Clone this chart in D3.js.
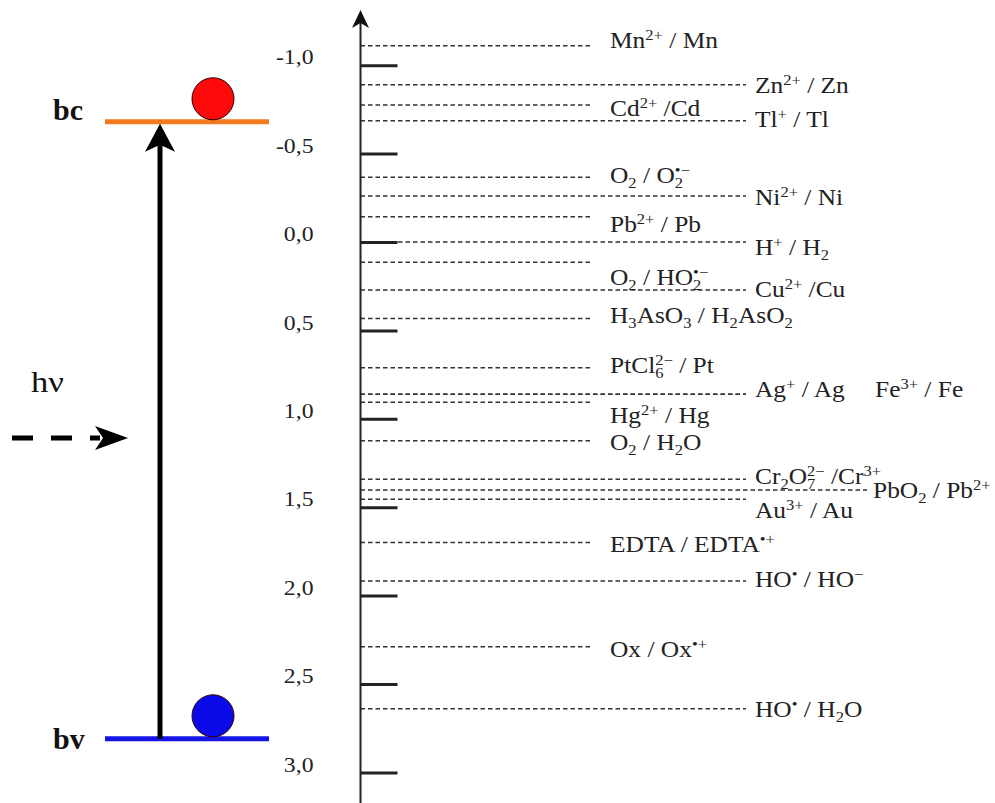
<!DOCTYPE html>
<html>
<head>
<meta charset="utf-8">
<script src="https://cdn.jsdelivr.net/npm/d3@7"></script>
<style>
  body { margin: 0; background: #fff; }
  svg { display: block; font-family: "Liberation Serif", "Times New Roman", serif; }
  text { white-space: pre; }
</style>
</head>
<body>
<div id="chart"></div>
<script>
// potential scale (V)
var tickValues = [-1.0, -0.5, 0.0, 0.5, 1.0, 1.5, 2.0, 2.5, 3.0];

// band edges of the semiconductor (V)
var bandNames = ["bc", "bv"];
var bandPotentials = [-0.68, 2.81];

// redox couples: label markup (^{} superscript, _{} subscript)
var coupleLabels = [
    "Mn^{2+} / Mn", "Zn^{2+} / Zn", "Cd^{2+} /Cd", "Tl^{+} / Tl",
    "O_{2} / O_{2}^{•−}", "Ni^{2+} / Ni", "Pb^{2+} / Pb", "H^{+} / H_{2}",
    "O_{2} / HO_{2}^{•−}", "Cu^{2+} /Cu", "H_{3}AsO_{3} / H_{2}AsO_{2}",
    "PtCl_{6}^{2−} / Pt", "Ag^{+} / Ag", "Fe^{3+} / Fe", "Hg^{2+} / Hg",
    "O_{2} / H_{2}O", "Cr_{2}O_{7}^{2−} /Cr^{3+}", "PbO_{2} / Pb^{2+}",
    "Au^{3+} / Au", "EDTA / EDTA^{•+}", "HO^{•} / HO^{−}", "Ox / Ox^{•+}",
    "HO^{•} / H_{2}O"
];
// potential of each couple's dashed level (V)
var couplePotentials = [
    -1.11, -0.89, -0.775, -0.686,
    -0.366, -0.26, -0.143, 0.0,
    0.115, 0.271, 0.432,
    0.711, 0.861, 0.861, 0.907,
    1.124, 1.342, 1.403,
    1.455, 1.699, 1.917, 2.289,
    2.64
];
// potential where each label is written (V)
var coupleLabelPotentials = [
    -1.135, -0.884, -0.752, -0.688,
    -0.372, -0.249, -0.098, 0.034,
    0.204, 0.270, 0.419,
    0.701, 0.835, 0.835, 0.982,
    1.137, 1.329, 1.408,
    1.521, 1.712, 1.910, 2.306,
    2.645
];
// column the label sits in
var couplePlacement = [
    "near", "far", "near", "far",
    "near", "far", "near", "far",
    "near", "far", "near",
    "near", "far", "beside", "near",
    "near", "far", "outer",
    "far", "near", "far", "near",
    "far"
];

var width = 995, height = 803;
var axisX = 360.5;
var stretch = 1.13;   // the original type is set a little wide

var y = d3.scaleLinear().domain([-1, 3]).range([65.2, 772.4]);
var lineEnd = d3.scaleOrdinal()
    .domain(["near", "far", "beside", "outer"])
    .range([591, 746, 746, 867]);
var labelX = d3.scaleOrdinal()
    .domain(["near", "far", "beside", "outer"])
    .range([610, 755, 875, 873]);

var locale = d3.formatLocale({decimal: ",", thousands: ".", grouping: [3], currency: ["", ""], minus: "-"});
var fmt = locale.format(".1f");

var svg = d3.select("#chart").append("svg")
    .attr("width", width)
    .attr("height", height);

svg.append("rect").attr("width", width).attr("height", height).attr("fill", "#fff");

// write markup with sub/superscripts as tspans
function richText(sel, markup, size) {
    var tokens = markup.match(/\^\{[^}]*\}|_\{[^}]*\}|[^_^]+/g);
    var shift = 0, prev = null, prevNode = null;
    tokens.forEach(function(t) {
        var kind = t[0] === "^" ? "sup" : (t[0] === "_" ? "sub" : "base");
        var str = kind === "base" ? t : t.slice(2, -1);
        var target = kind === "sup" ? -0.36 * size : (kind === "sub" ? 0.22 * size : 0);
        var ts = sel.append("tspan")
            .text(str)
            .attr("dy", target - shift)
            .style("font-size", (kind === "base" ? size : size * 0.65) + "px");
        if (kind === "sup" && prev === "sub") {
            ts.attr("dx", -prevNode.getComputedTextLength());
        }
        shift = target; prev = kind; prevNode = ts.node();
    });
}

var couples = coupleLabels.map(function(d, i) {
    return {label: d, v: couplePotentials[i], lv: coupleLabelPotentials[i], place: couplePlacement[i]};
});

// dashed levels
svg.append("g").selectAll("line")
    .data(couples)
  .enter().append("line")
    .attr("x1", axisX)
    .attr("x2", function(d) { return lineEnd(d.place); })
    .attr("y1", function(d) { return y(d.v); })
    .attr("y2", function(d) { return y(d.v); })
    .attr("stroke", "#333")
    .attr("stroke-width", 1.5)
    .attr("stroke-dasharray", "4.5,3");

// couple labels
svg.append("g").selectAll("text")
    .data(couples)
  .enter().append("text")
    .attr("transform", function(d) {
        return "translate(" + labelX(d.place) + "," + (y(d.lv) + 7) + ") scale(" + stretch + ",1)";
    })
    .attr("fill", "#222")
    .each(function(d) { richText(d3.select(this), d.label, 22.5); });

// axis: ticks to the right, labels to the left
var axis = svg.append("g")
    .attr("transform", "translate(" + axisX + ",0)")
    .call(d3.axisLeft(y)
        .tickValues(tickValues)
        .tickFormat(fmt)
        .tickSizeInner(-37)
        .tickSizeOuter(0)
        .tickPadding(47));
axis.select(".domain").remove();
axis.selectAll(".tick line").attr("stroke", "#222").attr("stroke-width", 3);
axis.selectAll(".tick text")
    .attr("x", -47 / stretch)
    .attr("transform", "scale(" + stretch + ",1)")
    .attr("dy", "-0.06em")
    .attr("fill", "#222")
    .style("font-family", "Liberation Serif, serif")
    .style("font-size", "21px");

svg.append("line")
    .attr("x1", axisX).attr("x2", axisX)
    .attr("y1", 16).attr("y2", height)
    .attr("stroke", "#222")
    .attr("stroke-width", 2);
svg.append("path")
    .attr("d", "M" + axisX + ",10 L" + (axisX + 8.5) + ",28 L" + axisX + ",23 L" + (axisX - 8.5) + ",28 Z")
    .attr("fill", "#111");

// bands
var bandColor = ["#f27a1f", "#1414e6"];
var chargeColor = ["#ff0a0a", "#0a0ae8"];
var bands = bandNames.map(function(d, i) { return {name: d, v: bandPotentials[i]}; });

svg.append("g").selectAll("line")
    .data(bands)
  .enter().append("line")
    .attr("x1", 105).attr("x2", 269)
    .attr("y1", function(d) { return y(d.v); })
    .attr("y2", function(d) { return y(d.v); })
    .attr("stroke", function(d, i) { return bandColor[i]; })
    .attr("stroke-width", 5);

svg.append("g").selectAll("circle")
    .data(bands)
  .enter().append("circle")
    .attr("cx", 213)
    .attr("cy", function(d) { return y(d.v) - 23; })
    .attr("r", 21)
    .attr("fill", function(d, i) { return chargeColor[i]; })
    .attr("stroke", "#300")
    .attr("stroke-width", 1);

svg.append("g").selectAll("text")
    .data(bands)
  .enter().append("text")
    .attr("x", 53)
    .attr("y", function(d, i) { return y(d.v) + (i === 0 ? -2 : 10); })
    .attr("font-weight", "bold")
    .attr("font-size", "30px")
    .attr("fill", "#111")
    .text(function(d) { return d.name; });

// excitation arrow from bv to bc
var yTop = y(bandPotentials[0]) + 2, yBot = y(bandPotentials[1]);
svg.append("line")
    .attr("x1", 160).attr("x2", 160)
    .attr("y1", yBot).attr("y2", yTop + 20)
    .attr("stroke", "#000")
    .attr("stroke-width", 5);
svg.append("path")
    .attr("d", "M160," + yTop + " L175," + (yTop + 28) + " L160," + (yTop + 21) + " L145," + (yTop + 28) + " Z")
    .attr("fill", "#000");

// photon
svg.append("text")
    .attr("transform", "translate(31,392) scale(1.15,1)")
    .attr("font-size", "30px")
    .attr("fill", "#111")
    .text("hν");
svg.append("line")
    .attr("x1", 12).attr("x2", 100)
    .attr("y1", 438).attr("y2", 438)
    .attr("stroke", "#000")
    .attr("stroke-width", 5)
    .attr("stroke-dasharray", "21,18");
svg.append("path")
    .attr("d", "M128,438 L95,426 L103,438 L95,450 Z")
    .attr("fill", "#000");
</script>
</body>
</html>
